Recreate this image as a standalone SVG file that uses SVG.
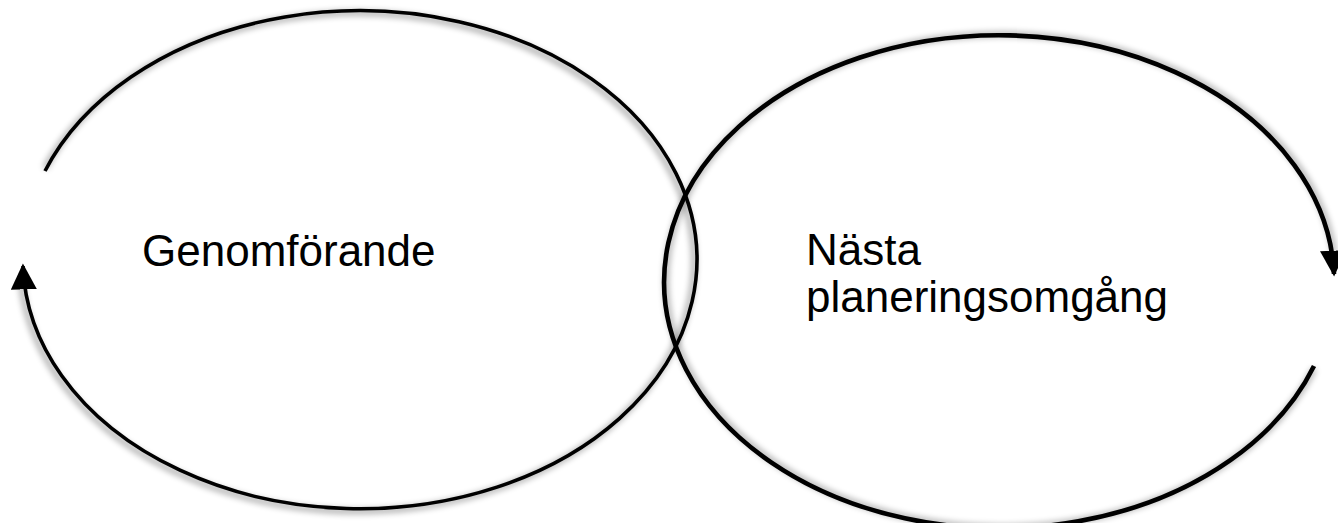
<svg xmlns="http://www.w3.org/2000/svg" width="1338" height="523" viewBox="0 0 1338 523">
<style>
.c{fill:none;stroke:#000;}
.s{fill:none;stroke:#000;stroke-width:5;opacity:0.35;}
.t{font-family:"Liberation Sans",Arial,sans-serif;font-size:44px;fill:#000;}
</style>
<defs>
<filter id="blur" x="-10%" y="-10%" width="120%" height="120%"><feGaussianBlur stdDeviation="3"/></filter>
<marker id="ah" viewBox="0 0 10 10" refX="9" refY="5" markerWidth="26" markerHeight="26" markerUnits="userSpaceOnUse" orient="auto"><path d="M0,0 L10,5 L0,10 Z" fill="#000"/></marker>
</defs>
<g id="connectors">
<path class="s" filter="url(#blur)" transform="translate(0,-3)" d="M45,171 A337,249 0 1 1 21,285"/>
<path class="c" stroke-width="3.6" d="M45,171 A337,249 0 1 1 23,266" marker-end="url(#ah)"/>
<path class="s" filter="url(#blur)" transform="translate(0,3)" d="M1314,366 A335,246.5 0 1 1 1334,250"/>
<path class="c" stroke-width="4.6" d="M1314,366 A335,246.5 0 1 1 1334,274" marker-end="url(#ah)"/>
</g>
<g id="genomforande">
<text class="t" x="142" y="266">Genomförande</text>
</g>
<g id="nasta">
<text class="t" x="806" y="265">Nästa</text>
<text class="t" x="806" y="312">planeringsomgång</text>
</g>
</svg>
